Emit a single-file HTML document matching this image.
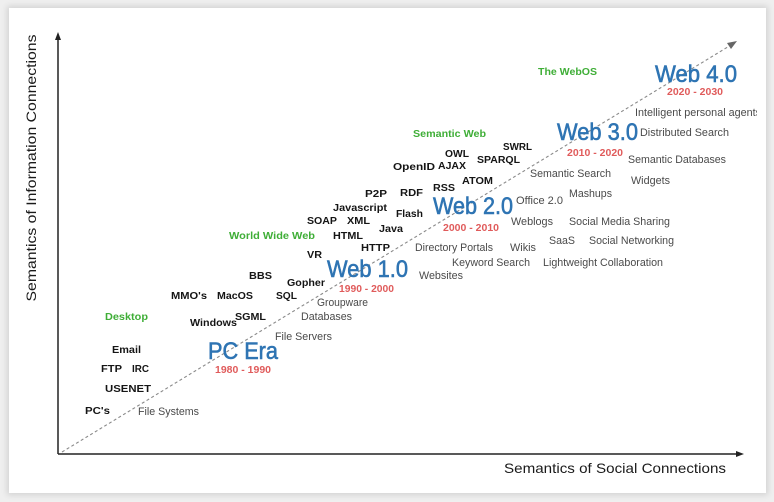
<!DOCTYPE html>
<html>
<head>
<meta charset="utf-8">
<style>
html,body{margin:0;padding:0;}
body{width:774px;height:502px;background:#efefef;overflow:hidden;position:relative;}
#card{position:absolute;left:9px;top:8px;width:757px;height:485px;background:#fff;box-shadow:0 0 6px 2px rgba(0,0,0,0.12);}
svg{position:absolute;left:0;top:0;}
text{font-family:"Liberation Sans",Arial,sans-serif;}
.b{font-weight:bold;font-size:10.5px;fill:#151515;}
.g{font-size:11px;fill:#4a4a4a;}
.gr{font-weight:bold;font-size:10.5px;fill:#3fae37;}
.r{font-weight:bold;font-size:10px;fill:#e05b5b;}
.bl{font-size:24px;fill:#2e74b3;stroke:#2e74b3;stroke-width:0.6px;}
</style>
</head>
<body>
<div id="card"></div>
<svg width="774" height="502" viewBox="0 0 774 502">
  <defs>
    <clipPath id="cp"><rect x="9" y="8" width="748" height="485"/></clipPath>
  </defs>
  <!-- axes -->
  <line x1="58" y1="454" x2="58" y2="39" stroke="#222" stroke-width="1.5"/>
  <polygon points="58,32 55,40 61,40" fill="#222"/>
  <line x1="58" y1="454" x2="737" y2="454" stroke="#222" stroke-width="1.5"/>
  <polygon points="744,454 736,451 736,457" fill="#222"/>
  <!-- diagonal -->
  <line x1="62" y1="452" x2="731" y2="45" stroke="#8a8a8a" stroke-width="1.1" stroke-dasharray="3,2.5"/>
  <polygon points="737,41 727,43 731,49" fill="#666"/>

  <!-- axis labels -->
  <text transform="translate(36,168) rotate(-90)" text-anchor="middle" font-size="14" fill="#1a1a1a" textLength="267" lengthAdjust="spacingAndGlyphs">Semantics of Information Connections</text>
  <text x="504" y="473" font-size="14" fill="#1a1a1a" textLength="222" lengthAdjust="spacingAndGlyphs">Semantics of Social Connections</text>

  <g clip-path="url(#cp)">
  <!-- big era labels -->
  <text class="bl" x="655" y="82" textLength="82" lengthAdjust="spacingAndGlyphs">Web 4.0</text>
  <text class="bl" x="557" y="140" textLength="81" lengthAdjust="spacingAndGlyphs">Web 3.0</text>
  <text class="bl" x="433" y="214" textLength="80" lengthAdjust="spacingAndGlyphs">Web 2.0</text>
  <text class="bl" x="327" y="277" textLength="81" lengthAdjust="spacingAndGlyphs">Web 1.0</text>
  <text class="bl" x="208" y="359" textLength="70" lengthAdjust="spacingAndGlyphs">PC Era</text>

  <!-- years -->
  <text class="r" x="667" y="95" textLength="56" lengthAdjust="spacingAndGlyphs">2020 - 2030</text>
  <text class="r" x="567" y="156" textLength="56" lengthAdjust="spacingAndGlyphs">2010 - 2020</text>
  <text class="r" x="443" y="231" textLength="56" lengthAdjust="spacingAndGlyphs">2000 - 2010</text>
  <text class="r" x="339" y="292" textLength="55" lengthAdjust="spacingAndGlyphs">1990 - 2000</text>
  <text class="r" x="215" y="373" textLength="56" lengthAdjust="spacingAndGlyphs">1980 - 1990</text>

  <!-- green -->
  <text class="gr" x="538" y="75" textLength="59" lengthAdjust="spacingAndGlyphs">The WebOS</text>
  <text class="gr" x="413" y="137" textLength="73" lengthAdjust="spacingAndGlyphs">Semantic Web</text>
  <text class="gr" x="229" y="239" textLength="86" lengthAdjust="spacingAndGlyphs">World Wide Web</text>
  <text class="gr" x="105" y="320" textLength="43" lengthAdjust="spacingAndGlyphs">Desktop</text>

  <!-- bold black -->
  <text class="b" x="503" y="150" textLength="29" lengthAdjust="spacingAndGlyphs">SWRL</text>
  <text class="b" x="445" y="157" textLength="24" lengthAdjust="spacingAndGlyphs">OWL</text>
  <text class="b" x="477" y="163" textLength="43" lengthAdjust="spacingAndGlyphs">SPARQL</text>
  <text class="b" x="393" y="170" textLength="42" lengthAdjust="spacingAndGlyphs">OpenID</text>
  <text class="b" x="438" y="169" textLength="28" lengthAdjust="spacingAndGlyphs">AJAX</text>
  <text class="b" x="462" y="184" textLength="31" lengthAdjust="spacingAndGlyphs">ATOM</text>
  <text class="b" x="433" y="191" textLength="22" lengthAdjust="spacingAndGlyphs">RSS</text>
  <text class="b" x="400" y="196" textLength="23" lengthAdjust="spacingAndGlyphs">RDF</text>
  <text class="b" x="365" y="197" textLength="22" lengthAdjust="spacingAndGlyphs">P2P</text>
  <text class="b" x="333" y="211" textLength="54" lengthAdjust="spacingAndGlyphs">Javascript</text>
  <text class="b" x="396" y="217" textLength="27" lengthAdjust="spacingAndGlyphs">Flash</text>
  <text class="b" x="307" y="224" textLength="30" lengthAdjust="spacingAndGlyphs">SOAP</text>
  <text class="b" x="347" y="224" textLength="23" lengthAdjust="spacingAndGlyphs">XML</text>
  <text class="b" x="379" y="232" textLength="24" lengthAdjust="spacingAndGlyphs">Java</text>
  <text class="b" x="333" y="239" textLength="30" lengthAdjust="spacingAndGlyphs">HTML</text>
  <text class="b" x="361" y="251" textLength="29" lengthAdjust="spacingAndGlyphs">HTTP</text>
  <text class="b" x="307" y="258" textLength="15" lengthAdjust="spacingAndGlyphs">VR</text>
  <text class="b" x="249" y="279" textLength="23" lengthAdjust="spacingAndGlyphs">BBS</text>
  <text class="b" x="287" y="286" textLength="38" lengthAdjust="spacingAndGlyphs">Gopher</text>
  <text class="b" x="171" y="299" textLength="36" lengthAdjust="spacingAndGlyphs">MMO's</text>
  <text class="b" x="217" y="299" textLength="36" lengthAdjust="spacingAndGlyphs">MacOS</text>
  <text class="b" x="276" y="299" textLength="21" lengthAdjust="spacingAndGlyphs">SQL</text>
  <text class="b" x="235" y="320" textLength="31" lengthAdjust="spacingAndGlyphs">SGML</text>
  <text class="b" x="190" y="326" textLength="47" lengthAdjust="spacingAndGlyphs">Windows</text>
  <text class="b" x="112" y="353" textLength="29" lengthAdjust="spacingAndGlyphs">Email</text>
  <text class="b" x="101" y="372" textLength="21" lengthAdjust="spacingAndGlyphs">FTP</text>
  <text class="b" x="132" y="372" textLength="17" lengthAdjust="spacingAndGlyphs">IRC</text>
  <text class="b" x="105" y="392" textLength="46" lengthAdjust="spacingAndGlyphs">USENET</text>
  <text class="b" x="85" y="414" textLength="25" lengthAdjust="spacingAndGlyphs">PC's</text>

  <!-- gray -->
  <text class="g" x="635" y="116" textLength="126" lengthAdjust="spacingAndGlyphs">Intelligent personal agents</text>
  <text class="g" x="640" y="136" textLength="89" lengthAdjust="spacingAndGlyphs">Distributed Search</text>
  <text class="g" x="628" y="163" textLength="98" lengthAdjust="spacingAndGlyphs">Semantic Databases</text>
  <text class="g" x="530" y="177" textLength="81" lengthAdjust="spacingAndGlyphs">Semantic Search</text>
  <text class="g" x="631" y="184" textLength="39" lengthAdjust="spacingAndGlyphs">Widgets</text>
  <text class="g" x="569" y="197" textLength="43" lengthAdjust="spacingAndGlyphs">Mashups</text>
  <text class="g" x="516" y="204" textLength="47" lengthAdjust="spacingAndGlyphs">Office 2.0</text>
  <text class="g" x="511" y="225" textLength="42" lengthAdjust="spacingAndGlyphs">Weblogs</text>
  <text class="g" x="569" y="225" textLength="101" lengthAdjust="spacingAndGlyphs">Social Media Sharing</text>
  <text class="g" x="549" y="244" textLength="26" lengthAdjust="spacingAndGlyphs">SaaS</text>
  <text class="g" x="589" y="244" textLength="85" lengthAdjust="spacingAndGlyphs">Social Networking</text>
  <text class="g" x="415" y="251" textLength="78" lengthAdjust="spacingAndGlyphs">Directory Portals</text>
  <text class="g" x="510" y="251" textLength="26" lengthAdjust="spacingAndGlyphs">Wikis</text>
  <text class="g" x="452" y="266" textLength="78" lengthAdjust="spacingAndGlyphs">Keyword Search</text>
  <text class="g" x="543" y="266" textLength="120" lengthAdjust="spacingAndGlyphs">Lightweight Collaboration</text>
  <text class="g" x="419" y="279" textLength="44" lengthAdjust="spacingAndGlyphs">Websites</text>
  <text class="g" x="317" y="306" textLength="51" lengthAdjust="spacingAndGlyphs">Groupware</text>
  <text class="g" x="301" y="320" textLength="51" lengthAdjust="spacingAndGlyphs">Databases</text>
  <text class="g" x="275" y="340" textLength="57" lengthAdjust="spacingAndGlyphs">File Servers</text>
  <text class="g" x="138" y="415" textLength="61" lengthAdjust="spacingAndGlyphs">File Systems</text>
  </g>
</svg>
</body>
</html>
